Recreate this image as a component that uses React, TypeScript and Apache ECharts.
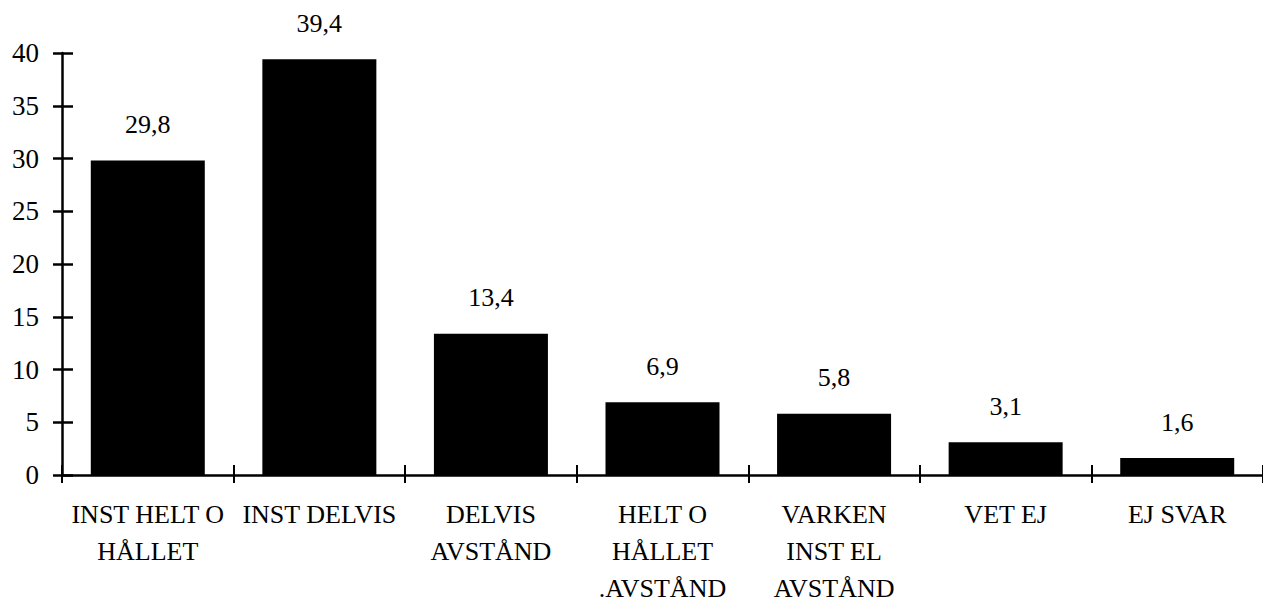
import React, { useEffect, useRef } from "react";
import * as echarts from "echarts";

const categories: string[] = [
  "INST HELT O\nHÅLLET",
  "INST DELVIS",
  "DELVIS\nAVSTÅND",
  "HELT O\nHÅLLET\n.AVSTÅND",
  "VARKEN\nINST EL\nAVSTÅND",
  "VET EJ",
  "EJ SVAR",
];
const values: number[] = [29.8, 39.4, 13.4, 6.9, 5.8, 3.1, 1.6];
const yMin = 0;
const yMax = 40;
const yStep = 5;

const FONT = "Times New Roman, Liberation Serif, DejaVu Serif, serif";

export default function App() {
  const ref = useRef<HTMLDivElement>(null);
  useEffect(() => {
    if (!ref.current) return;
    const chart = echarts.init(ref.current, null, { renderer: "svg" });
    const lineStyle = { color: "#000", width: 2.5 };
    chart.setOption({
      animation: false,
      backgroundColor: "#fff",
      textStyle: { fontFamily: FONT },
      grid: { left: 62, right: -4, top: 53, bottom: 111, containLabel: false },
      xAxis: [
        {
          type: "category",
          data: categories,
          position: "bottom",
          boundaryGap: true,
          axisLine: { show: true, lineStyle },
          axisTick: { show: true, inside: false, length: 8, lineStyle: { color: "#000", width: 2 } },
          axisLabel: {
            interval: 0,
            margin: 21,
            color: "#000",
            fontFamily: FONT,
            fontSize: 26,
            lineHeight: 37,
          },
          splitLine: { show: false },
        },
        {
          type: "category",
          data: categories,
          position: "bottom",
          boundaryGap: true,
          axisLine: { show: false },
          axisTick: { show: true, inside: true, length: 10, lineStyle: { color: "#000", width: 2 } },
          axisLabel: { show: false },
          splitLine: { show: false },
        },
      ],
      yAxis: [
        {
          type: "value",
          min: yMin,
          max: yMax,
          interval: yStep,
          position: "left",
          axisLine: { show: true, lineStyle },
          axisTick: { show: true, inside: false, length: 9, lineStyle: { color: "#000", width: 2.5 } },
          axisLabel: {
            margin: 23,
            color: "#000",
            fontFamily: FONT,
            fontSize: 27,
          },
          splitLine: { show: false },
        },
        {
          type: "value",
          min: yMin,
          max: yMax,
          interval: yStep,
          position: "left",
          axisLine: { show: false },
          axisTick: { show: true, inside: true, length: 11, lineStyle: { color: "#000", width: 2.5 } },
          axisLabel: { show: false },
          splitLine: { show: false },
        },
      ],
      series: [
        {
          type: "bar",
          xAxisIndex: 0,
          yAxisIndex: 0,
          data: values,
          barWidth: 114,
          itemStyle: { color: "#000" },
          label: {
            show: true,
            position: "top",
            distance: 23,
            color: "#000",
            fontFamily: FONT,
            fontSize: 26,
            formatter: (p: any) => String(p.value).replace(".", ","),
          },
        },
      ],
    });
    return () => chart.dispose();
  }, []);
  return (
    <div
      ref={ref}
      style={{ position: "fixed", left: 0, top: 0, width: 1263, height: 607, background: "#fff" }}
    />
  );
}
